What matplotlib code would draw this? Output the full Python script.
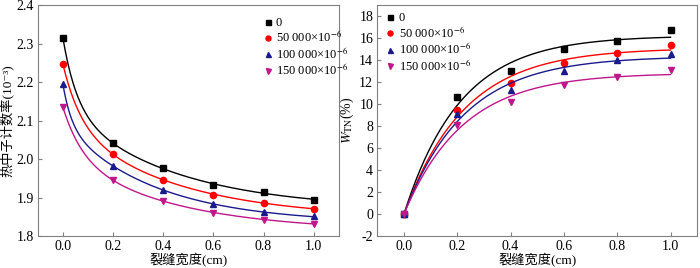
import numpy as np
import matplotlib
matplotlib.use("Agg")
import matplotlib.pyplot as plt
from matplotlib.ticker import FuncFormatter

plt.rcParams['font.family'] = ['Liberation Serif', 'Noto Sans CJK SC', 'DejaVu Serif']
plt.rcParams['mathtext.fontset'] = 'stix'
plt.rcParams['font.size'] = 10

# crack width (cm)
width = [0.0, 0.2, 0.4, 0.6, 0.8, 1.0]
labels = ['0', '50 000×10$^{-6}$', '100 000×10$^{-6}$', '150 000×10$^{-6}$']

# thermal neutron count rate (10^-3)
rate_0 = [2.315, 2.041, 1.976, 1.933, 1.915, 1.894]
rate_50k = [2.247, 2.012, 1.947, 1.908, 1.886, 1.871]
rate_100k = [2.195, 1.982, 1.920, 1.883, 1.862, 1.851]
rate_150k = [2.135, 1.945, 1.891, 1.861, 1.843, 1.832]

# W_TN (%)
wtn_0 = [0.0, 10.62, 13.0, 14.97, 15.7, 16.7]
wtn_50k = [0.0, 9.44, 11.92, 13.73, 14.64, 15.37]
wtn_100k = [0.0, 9.07, 11.25, 13.04, 14.0, 14.55]
wtn_150k = [0.0, 8.08, 10.19, 11.74, 12.49, 13.07]

colors = ['black', '#ff0000', '#1a1a8c', '#c0168c']
markers = ['s', 'o', '^', 'v']


def fit_decay(x, y):
    # y = a + b*exp(-x/t1) + c*exp(-x/t2), grid over t1, t2
    x = np.asarray(x); y = np.asarray(y)
    best = None
    for t1 in np.linspace(0.02, 0.3, 40):
        for t2 in np.linspace(0.3, 3.0, 40):
            A = np.column_stack([np.ones_like(x), np.exp(-x / t1), np.exp(-x / t2)])
            coef, *_ = np.linalg.lstsq(A, y, rcond=None)
            err = np.sum((A @ coef - y) ** 2)
            if best is None or err < best[0]:
                best = (err, t1, t2, coef)
    _, t1, t2, coef = best
    xs = np.linspace(0, 1, 200)
    return xs, coef[0] + coef[1] * np.exp(-xs / t1) + coef[2] * np.exp(-xs / t2)


def fit_assoc(x, y):
    # y = a*(1-exp(-x/t))
    x = np.asarray(x); y = np.asarray(y)
    best = None
    for t in np.linspace(0.05, 1.0, 200):
        f = 1 - np.exp(-x / t)
        a = np.dot(f, y) / np.dot(f, f)
        err = np.sum((a * f - y) ** 2)
        if best is None or err < best[0]:
            best = (err, t, a)
    _, t, a = best
    xs = np.linspace(0, 1, 200)
    return xs, a * (1 - np.exp(-xs / t))


fig = plt.figure(figsize=(7, 2.68), dpi=100)
ax1 = fig.add_axes([0.054, 0.119, 0.43, 0.862])
ax2 = fig.add_axes([0.539, 0.119, 0.457, 0.862])

for ys, c, m, lab in zip([rate_0, rate_50k, rate_100k, rate_150k], colors, markers, labels):
    xs, fy = fit_decay(width, ys)
    ax1.plot(xs, fy, color=c, lw=1)
    ax1.plot(width, ys, ls='none', marker=m, color=c, ms=4.5, label=lab)

for ys, c, m, lab in zip([wtn_0, wtn_50k, wtn_100k, wtn_150k], colors, markers, labels):
    xs, fy = fit_assoc(width, ys)
    ax2.plot(xs, fy, color=c, lw=1)
    ax2.plot(width, ys, ls='none', marker=m, color=c, ms=4.5, label=lab)

leg_kw = dict(frameon=False, handletextpad=0.25, labelspacing=0.05, handlelength=0.8,
              fontsize=9, markerscale=0.8)

ax1.set_xlim(-0.1, 1.1)
ax1.set_ylim(1.8, 2.4)
ax1.set_yticks(np.arange(1.8, 2.41, 0.1))
ax1.set_ylabel('热中子计数率(10⁻³)', labelpad=2, fontsize=9.5)
ax1.legend(loc='upper left', bbox_to_anchor=(0.73, 0.97), borderaxespad=0, **leg_kw)
ax1.yaxis.set_major_formatter(FuncFormatter(lambda v, p: '%.1f' % v))

ax2.set_xlim(-0.1, 1.1)
ax2.set_ylim(-2, 19)
ax2.set_yticks(np.arange(-2, 18.1, 2))
ax2.set_ylabel('$W_{\\mathrm{TN}}$(%)', labelpad=2)
ax2.legend(loc='upper left', bbox_to_anchor=(0.01, 0.99), borderaxespad=0, **leg_kw)
ax2.yaxis.set_major_formatter(FuncFormatter(lambda v, p: '%d' % round(v)))

for ax in (ax1, ax2):
    ax.set_xticks(np.arange(0, 1.01, 0.2))
    ax.set_xticklabels(['%.1f' % v for v in np.arange(0, 1.01, 0.2)])
    ax.set_xlabel('裂缝宽度(cm)', labelpad=0, fontsize=9.5)
    ax.tick_params(direction='in', length=3, color='#808080', pad=3)
    for s in ax.spines.values():
        s.set_color('#808080')

fig.savefig('out.png', dpi=100)
